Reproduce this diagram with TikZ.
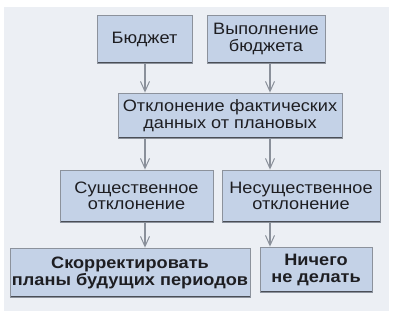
\documentclass[tikz,border=0pt]{standalone}
\usepackage{fontspec}
\setmainfont[FakeStretch=1.1]{Liberation Sans}
\usetikzlibrary{arrows.meta,calc}
\definecolor{panel}{HTML}{ECEFF4}
\definecolor{boxblue}{HTML}{C4D2E7}
\definecolor{edgegray}{HTML}{8C929C}
\definecolor{darkedge}{HTML}{4A4E56}
\definecolor{arrowgray}{HTML}{8A909A}
\definecolor{txt}{HTML}{1E1E22}
\tikzset{
  box/.style={fill=boxblue, draw=edgegray, line width=0.8bp, align=center,
    text=txt, font=\fontsize{16.5bp}{16.5bp}\selectfont, inner sep=0pt,
    path picture={
      \draw[darkedge, line width=2.4bp]
        (path picture bounding box.north west) -- (path picture bounding box.north east);
      \draw[darkedge, line width=2bp]
        (path picture bounding box.south west) -- (path picture bounding box.south east);
    }},
  boldbox/.style={box, font=\bfseries\fontsize{16.5bp}{17bp}\selectfont},
  conn/.style={draw=arrowgray, line width=1.1bp, -{Straight Barb[length=10bp,width=9bp,line width=1bp]}}
}
\begin{document}
\begin{tikzpicture}[x=1bp,y=-1bp]
\useasboundingbox (0,0) rectangle (393,319);
\fill[white] (0,0) rectangle (393,319);
\fill[panel] (4,7) rectangle (389,311);
\node[box, minimum width=95bp, minimum height=48bp] (b1) at (144.5,39) {Бюджет};
\node[box, minimum width=118bp, minimum height=48bp] (b2) at (266,39) {Выполнение\\бюджета};
\node[box, minimum width=224bp, minimum height=45bp] (b3) at (230,115.5) {Отклонение фактических\\данных от плановых};
\node[box, minimum width=153bp, minimum height=52bp] (b4) at (136.5,196) {Существенное\\отклонение};
\node[box, minimum width=158bp, minimum height=52bp] (b5) at (301,196) {Несущественное\\отклонение};
\node[boldbox, minimum width=240bp, minimum height=49bp] (b6) at (130,272.5) {Скорректировать\\планы будущих периодов};
\node[boldbox, minimum width=112bp, minimum height=45bp] (b7) at (316,269.5) {Ничего\\не делать};
\coordinate (c1) at (145,0);
\coordinate (c2) at (270,0);
\draw[conn] (b1.south -| c1) -- (b3.north -| c1);
\draw[conn] (b2.south -| c2) -- (b3.north -| c2);
\draw[conn] (b3.south -| c1) -- (b4.north -| c1);
\draw[conn] (b3.south -| c2) -- (b5.north -| c2);
\draw[conn] (b4.south -| c1) -- (b6.north -| c1);
\draw[conn] (b5.south -| c2) -- (b7.north -| c2);
\end{tikzpicture}
\end{document}
